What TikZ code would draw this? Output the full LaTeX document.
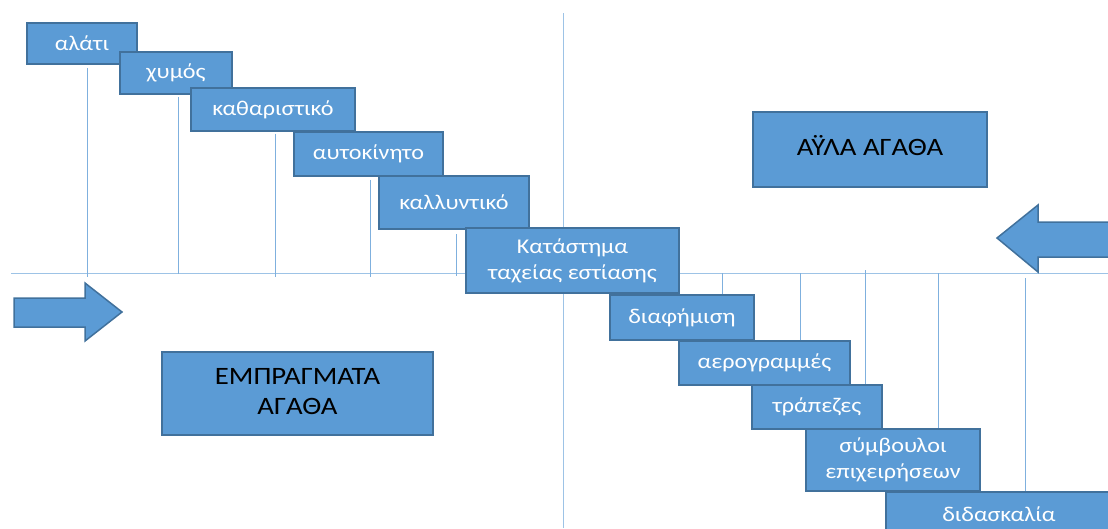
\documentclass[tikz,border=0pt]{standalone}
\usepackage{fontspec}
\setmainfont{Carlito}[FakeStretch=1.15]
\usetikzlibrary{backgrounds}
\definecolor{boxfill}{HTML}{5B9BD5}
\definecolor{boxline}{HTML}{41719C}
\definecolor{axisc}{HTML}{9DC3E6}
\definecolor{tickc}{HTML}{7FB0DE}
\begin{document}
\begin{tikzpicture}[x=1pt,y=-1pt,
  bx/.style={draw=boxline, fill=boxfill, line width=1.5pt, text=white, inner sep=0pt, align=center, font=\fontsize{21}{26}\selectfont},
  big/.style={draw=boxline, fill=boxfill, line width=1.5pt, text=black, inner sep=0pt, align=center, font=\fontsize{25}{30}\selectfont},
  arr/.style={draw=boxline, fill=boxfill, line width=1.5pt, line join=miter},
  axisline/.style={draw=axisc, line width=1.8pt},
  tickline/.style={draw=tickc, line width=1pt}]
\clip (0,0) rectangle (1108,528);
\useasboundingbox (0,0) rectangle (1108,528);
% boxes, left staircase
\node[bx, minimum width=110pt, minimum height=41pt] (a1) at (82,43.5) {αλάτι};
\node[bx, minimum width=112pt, minimum height=42pt] (a2) at (176,73) {χυμός};
\node[bx, minimum width=164pt, minimum height=43pt] (a3) at (273,109.5) {καθαριστικό};
\node[bx, minimum width=149pt, minimum height=44pt] (a4) at (368.5,154) {αυτοκίνητο};
\node[bx, minimum width=150pt, minimum height=53pt] (a5) at (454,202.5) {καλλυντικό};
\node[bx, minimum width=213pt, minimum height=65pt] (c) at (572.5,260.5) {Κατάστημα\\ταχείας εστίασης};
% boxes, right staircase
\node[bx, minimum width=144pt, minimum height=45pt] (b1) at (682,317.5) {διαφήμιση};
\node[bx, minimum width=171pt, minimum height=44pt] (b2) at (764.5,363) {αερογραμμές};
\node[bx, minimum width=130pt, minimum height=44pt] (b3) at (817,407) {τράπεζες};
\node[bx, minimum width=174pt, minimum height=62pt] (b4) at (893,460) {σύμβουλοι\\επιχειρήσεων};
\node[bx, minimum width=226pt, minimum height=44pt] (b5) at (999,514) {διδασκαλία};
% large boxes
\node[big, minimum width=234pt, minimum height=75pt] (L) at (870,149.5) {\raisebox{9pt}{ΑΫΛΑ ΑΓΑΘΑ}};
\node[big, minimum width=271pt, minimum height=83pt] (E) at (297.5,393.5) {\raisebox{5pt}{\begin{tabular}{@{}c@{}}ΕΜΠΡΑΓΜΑΤΑ\\ΑΓΑΘΑ\end{tabular}}};
% arrows
\draw[arr] (14,298) -- (85,298) -- (85,283) -- (122,312) -- (85,341) -- (85,327) -- (14,327) -- cycle;
\draw[arr] (1115,222) -- (1038,222) -- (1038,205) -- (997,238) -- (1038,272) -- (1038,257) -- (1115,257) -- cycle;
% axes and ticks underneath
\begin{pgfonlayer}{background}
\coordinate (hL) at (11,273.5);
\coordinate (hR) at (1108,273.5);
\coordinate (vT) at (563.5,13);
\coordinate (vB) at (563.5,528);
\draw[axisline] (hL) -- (hR);
\draw[axisline] (vT) -- (vB);
\coordinate (p1) at (87,277);
\coordinate (p2) at (178,274);
\coordinate (p3) at (275,277);
\coordinate (p4) at (370,277);
\coordinate (p5) at (456,276);
\draw[tickline] ([yshift=-3pt]a1.south -| p1) -- (p1);
\draw[tickline] ([yshift=-2pt]a2.south -| p2) -- (p2);
\draw[tickline] ([yshift=-2pt]a3.south -| p3) -- (p3);
\draw[tickline] ([yshift=-3pt]a4.south -| p4) -- (p4);
\draw[tickline] ([yshift=-4pt]a5.south -| p5) -- (p5);
\coordinate (q1) at (722,273);
\coordinate (q2) at (800,273);
\coordinate (q3) at (865,270);
\coordinate (q4) at (938,273);
\coordinate (q5) at (1025,278);
\draw[tickline] (q1) -- (b1.north -| q1);
\draw[tickline] (q2) -- (b2.north -| q2);
\draw[tickline] (q3) -- (b3.north -| q3);
\draw[tickline] (q4) -- (b4.north -| q4);
\draw[tickline] (q5) -- (b5.north -| q5);
\end{pgfonlayer}
\end{tikzpicture}
\end{document}
